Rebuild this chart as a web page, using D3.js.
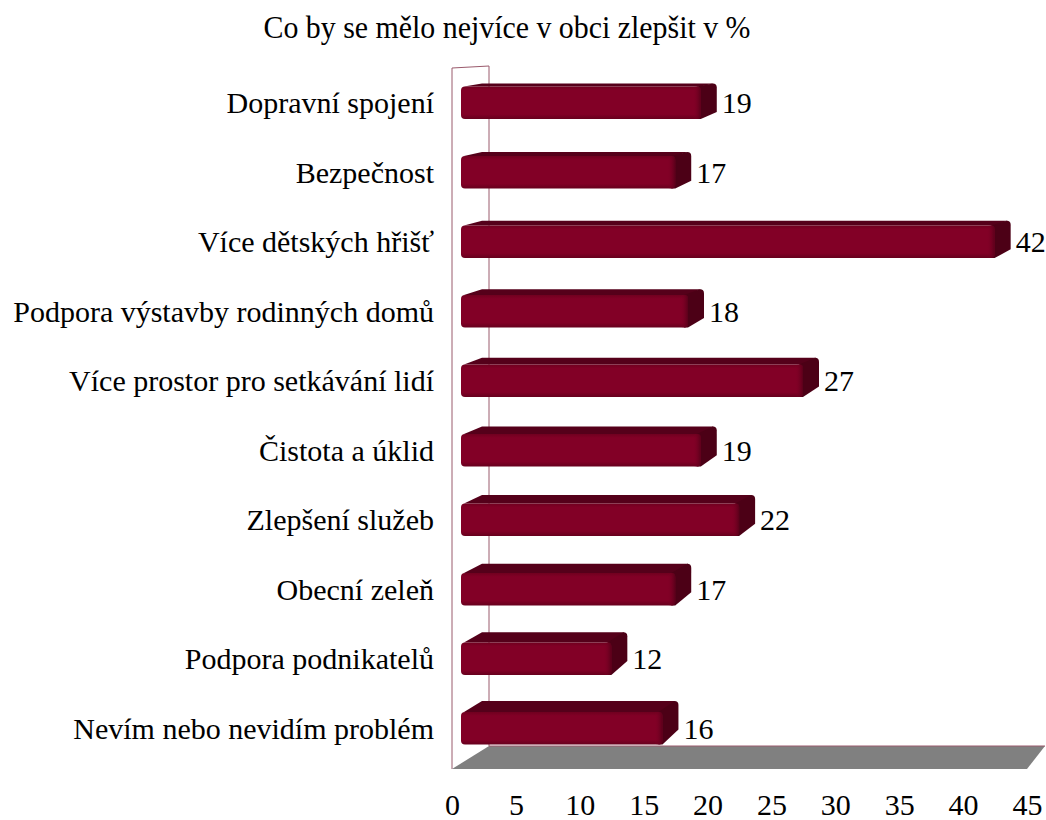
<!DOCTYPE html>
<html>
<head>
<meta charset="utf-8">
<script src="https://cdn.jsdelivr.net/npm/d3@7"></script>
<style>
  body { margin: 0; background: #fff; }
</style>
</head>
<body>
<div id="chart"></div>
<script>
// data
var categories = [
    "Dopravní spojení",
    "Bezpečnost",
    "Více dětských hřišť",
    "Podpora výstavby rodinných domů",
    "Více prostor pro setkávání lidí",
    "Čistota a úklid",
    "Zlepšení služeb",
    "Obecní zeleň",
    "Podpora podnikatelů",
    "Nevím nebo nevidím problém"
];
var values = [19, 17, 42, 18, 27, 19, 22, 17, 12, 16];
var xTicks = [0, 5, 10, 15, 20, 25, 30, 35, 40, 45];
var chartTitle = "Co by se mělo nejvíce v obci zlepšit v %";

var serif = "'Liberation Serif'";

// chart properties
var width = 1046,
    height = 820;

var depthX = 37,      // floor / wall depth
    depthY = 23,
    barDepthX = 16,
    floorY = 769,
    wallTop = 68;

var svg = d3.select("#chart").append("svg")
            .attr("width", width)
            .attr("height", height);

var defs = svg.append("defs");
var grad = defs.append("linearGradient")
               .attr("id", "barFront")
               .attr("x1", 0).attr("y1", 0).attr("x2", 0).attr("y2", 1);
grad.append("stop").attr("offset", "0%").attr("stop-color", "#70001f");
grad.append("stop").attr("offset", "12%").attr("stop-color", "#820026");
grad.append("stop").attr("offset", "85%").attr("stop-color", "#820026");
grad.append("stop").attr("offset", "100%").attr("stop-color", "#66001d");

var gradR = defs.append("linearGradient")
                .attr("id", "barEdge")
                .attr("x1", 0).attr("y1", 0).attr("x2", 1).attr("y2", 0);
gradR.append("stop").attr("offset", "0%").attr("stop-color", "#820026").attr("stop-opacity", 0);
gradR.append("stop").attr("offset", "100%").attr("stop-color", "#5a001a").attr("stop-opacity", 1);

var xScale = d3.scaleLinear()
               .domain([0, 45])
               .range([452, 1027]);

var yScale = d3.scaleBand()
               .domain(categories)
               .range([68, 763])
               .paddingInner(0.53)
               .paddingOuter(0.265);

// back wall (left side)
svg.append("path")
   .attr("d", "M" + xScale(0) + "," + floorY +
              "L" + xScale(0) + "," + wallTop +
              "L" + (xScale(0) + depthX) + "," + (wallTop - 2) +
              "L" + (xScale(0) + depthX) + "," + (floorY - depthY))
   .attr("fill", "none")
   .attr("stroke", "#9a5a6c")
   .attr("stroke-width", 1);

// floor
svg.append("path")
   .attr("d", "M" + xScale(0) + "," + floorY +
              "L" + xScale(45) + "," + floorY +
              "L" + (xScale(45) + 18) + "," + (floorY - depthY) +
              "L" + (xScale(0) + depthX) + "," + (floorY - depthY) + "Z")
   .attr("fill", "#808080");

svg.append("line")
   .attr("x1", xScale(0) + depthX).attr("x2", xScale(45) + 18)
   .attr("y1", floorY - depthY).attr("y2", floorY - depthY)
   .attr("stroke", "#9a5a6c")
   .attr("stroke-width", 1);

// bars
var bars = svg.selectAll(".bar")
              .data(values)
              .enter().append("g")
              .attr("class", "bar");

function frontLeft() { return xScale(0) + 9; }
function frontRight(v) { return xScale(v) + 6; }
function dy(i) { return 3 + 8 * i / (categories.length - 1); }

// top face
bars.append("path")
    .attr("d", function(d, i) {
        var y0 = yScale(categories[i]);
        var l = frontLeft(), r = frontRight(d), k = dy(i);
        return "M" + (l + 3) + "," + y0 +
               "L" + (l + barDepthX + 5) + "," + (y0 - k) +
               "L" + (r + barDepthX - 3) + "," + (y0 - k) +
               "L" + r + "," + y0 + "Z";
    })
    .attr("fill", "#55001a");

// side face
bars.append("path")
    .attr("d", function(d, i) {
        var y0 = yScale(categories[i]);
        var h = yScale.bandwidth();
        var r = frontRight(d), k = dy(i);
        return "M" + (r - 4) + "," + y0 +
               "L" + (r + barDepthX - 4) + "," + (y0 - k) +
               "Q" + (r + barDepthX) + "," + (y0 - k) + " " + (r + barDepthX) + "," + (y0 - k + 4) +
               "L" + (r + barDepthX) + "," + (y0 - k + h - 4) +
               "L" + (r) + "," + (y0 + h) +
               "L" + (r - 4) + "," + (y0 + h) + "Z";
    })
    .attr("fill", "#4c0016");

// front face
bars.append("rect")
    .attr("x", frontLeft())
    .attr("y", function(d, i) { return yScale(categories[i]); })
    .attr("width", function(d) { return frontRight(d) - frontLeft(); })
    .attr("height", yScale.bandwidth())
    .attr("rx", 4)
    .attr("fill", "url(#barFront)");

// darker shading at the right end of the front face
bars.append("rect")
    .attr("x", function(d) { return frontRight(d) - 8; })
    .attr("y", function(d, i) { return yScale(categories[i]); })
    .attr("width", 8)
    .attr("height", yScale.bandwidth())
    .attr("rx", 3)
    .attr("fill", "url(#barEdge)");

// value labels
bars.append("text")
    .attr("x", function(d) { return frontRight(d) + barDepthX + 5; })
    .attr("y", function(d, i) { return yScale(categories[i]) + yScale.bandwidth() / 2; })
    .attr("dy", "0.35em")
    .style("font-family", serif)
    .style("font-size", "30px")
    .text(function(d) { return d; });

// category labels
svg.append("g")
   .selectAll("text")
   .data(categories)
   .enter().append("text")
   .attr("x", 434)
   .attr("y", function(d) { return yScale(d) + yScale.bandwidth() / 2; })
   .attr("dy", "0.35em")
   .attr("text-anchor", "end")
   .style("font-family", serif)
   .style("font-size", "30px")
   .text(function(d) { return d; });

// x axis (labels only)
var xAxis = svg.append("g")
               .attr("transform", "translate(0," + 789 + ")")
               .call(d3.axisBottom(xScale).tickValues(xTicks).tickSize(0).tickPadding(0));
xAxis.select(".domain").remove();
xAxis.selectAll("text")
     .style("font-size", "30px")
     .style("font-family", serif)
     .attr("fill", "#000")
     .attr("dy", "0.85em");

// chart title
svg.append("text")
   .attr("x", 507)
   .attr("y", 38)
   .attr("text-anchor", "middle")
   .attr("textLength", 487)
   .attr("lengthAdjust", "spacingAndGlyphs")
   .style("font-family", serif)
   .style("font-size", "31px")
   .text(chartTitle);
</script>
</body>
</html>
